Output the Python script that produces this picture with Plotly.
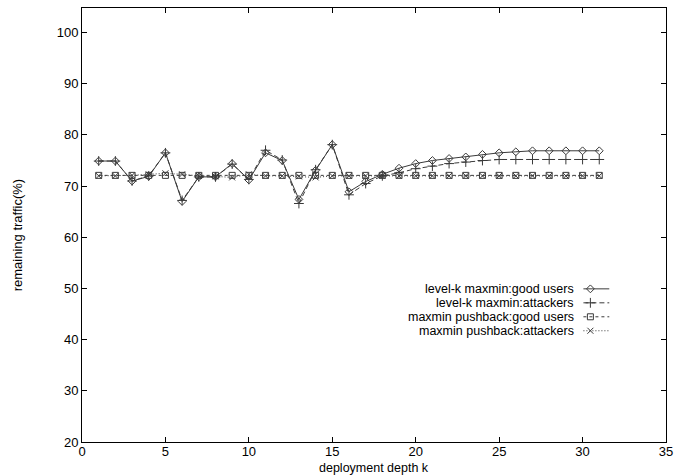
import plotly.graph_objects as go

k = list(range(1, 32))
good_levelk = [74.9, 74.9, 71.0, 71.9, 76.5, 67.0, 71.8, 71.8, 74.4, 71.2, 76.5, 75.0, 67.4, 73.1, 78.1,
               68.9, 70.9, 72.3, 73.5, 74.4, 75.0, 75.4, 75.7, 76.2, 76.5, 76.7, 76.9, 76.9, 76.9, 76.9, 76.9]
att_levelk = [74.9, 74.9, 71.0, 72.0, 76.5, 67.2, 71.8, 71.8, 74.3, 71.3, 77.0, 75.1, 66.6, 73.2, 78.1,
              68.3, 70.5, 72.0, 72.6, 73.4, 73.9, 74.4, 74.7, 75.0, 75.2, 75.2, 75.2, 75.2, 75.2, 75.2, 75.2]
good_push = [72.1] * 31
att_push = [72.0, 72.0, 72.1, 72.3, 72.5, 72.3, 72.0, 71.9, 71.7, 72.3, 72.0, 72.0, 71.9, 71.7, 72.0,
            72.0, 72.0, 72.0, 72.0, 72.0, 72.0, 72.0, 72.0, 72.0, 72.0, 72.0, 72.0, 72.0, 72.0, 72.0, 72.0]

names = ["level-k maxmin:good users", "level-k maxmin:attackers",
         "maxmin pushback:good users", "maxmin pushback:attackers"]
series = [good_levelk, att_levelk, good_push, att_push]
symbols = ["diamond-open", "cross-thin-open", "square-open", "x-thin-open"]
sizes = [6, 7, 6, 6]
dashes = ["solid", "5px,3px", "3px,3px", "1px,2px"]
lc = "#3a3a3a"
FONT = "Liberation Sans, Arial"

fig = go.Figure()
for name, ys, sym, sz, ds in zip(names, series, symbols, sizes, dashes):
    fig.add_trace(go.Scatter(x=k, y=ys, mode="lines+markers", name=name,
                             line=dict(color=lc, width=1, dash=ds),
                             marker=dict(symbol=sym, size=sz, color=lc, line=dict(width=1, color=lc)),
                             showlegend=False))

# custom gnuplot-style legend on a pixel-coordinate overlay axis
L, R, T, B = 82, 669, 7, 442
rows = [288.5, 302.5, 316.5, 330.5]
for name, sym, sz, ds, yy in zip(names, symbols, sizes, dashes, rows):
    fig.add_trace(go.Scatter(x=[586, 612], y=[yy, yy], mode="lines", xaxis="x2", yaxis="y2",
                             line=dict(color=lc, width=1, dash=ds), showlegend=False, hoverinfo="skip"))
    fig.add_trace(go.Scatter(x=[593], y=[yy], mode="markers", xaxis="x2", yaxis="y2",
                             marker=dict(symbol=sym, size=sz, color=lc, line=dict(width=1, color=lc)),
                             showlegend=False, hoverinfo="skip"))
    fig.add_annotation(x=579, y=yy, xref="x2", yref="y2", text=name, showarrow=False,
                       xanchor="right", yanchor="middle",
                       font=dict(family=FONT, size=12.5, color="black"))

fig.add_annotation(x=0.5, y=(B - 476) / (B - T), xref="paper", yref="paper", text="deployment depth k",
                   showarrow=False, xanchor="center", yanchor="bottom", borderpad=0,
                   font=dict(family=FONT, size=12.5, color="black"))
fig.add_annotation(x=(18 - L) / (R - L), y=0.5 - 10 / (B - T), xref="paper", yref="paper",
                   text="remaining traffic(%)",
                   showarrow=False, textangle=-90, xanchor="center", yanchor="middle",
                   font=dict(family=FONT, size=13, color="black"))

axfont = dict(family=FONT, size=13, color="black")
fig.update_layout(
    width=680, height=476,
    margin=dict(l=L, r=680 - R, t=T, b=476 - B, pad=0),
    paper_bgcolor="white", plot_bgcolor="white",
    xaxis=dict(range=[0, 35], tickvals=[0, 5, 10, 15, 20, 25, 30, 35], ticks="inside", ticklen=5,
               tickcolor="black", showline=True, linecolor="black", linewidth=1, mirror="allticks",
               showgrid=False, zeroline=False, tickfont=axfont, ticklabelstandoff=-3),
    yaxis=dict(range=[20, 104.8], tickvals=[20, 30, 40, 50, 60, 70, 80, 90, 100], ticks="inside",
               ticklen=5, tickcolor="black", showline=True, linecolor="black", linewidth=1,
               mirror="allticks", showgrid=False, zeroline=False, tickfont=axfont),
    xaxis2=dict(range=[L, R], overlaying="x", visible=False, fixedrange=True),
    yaxis2=dict(range=[B, T], overlaying="y", visible=False, fixedrange=True),
)

fig.write_html("out.html")
